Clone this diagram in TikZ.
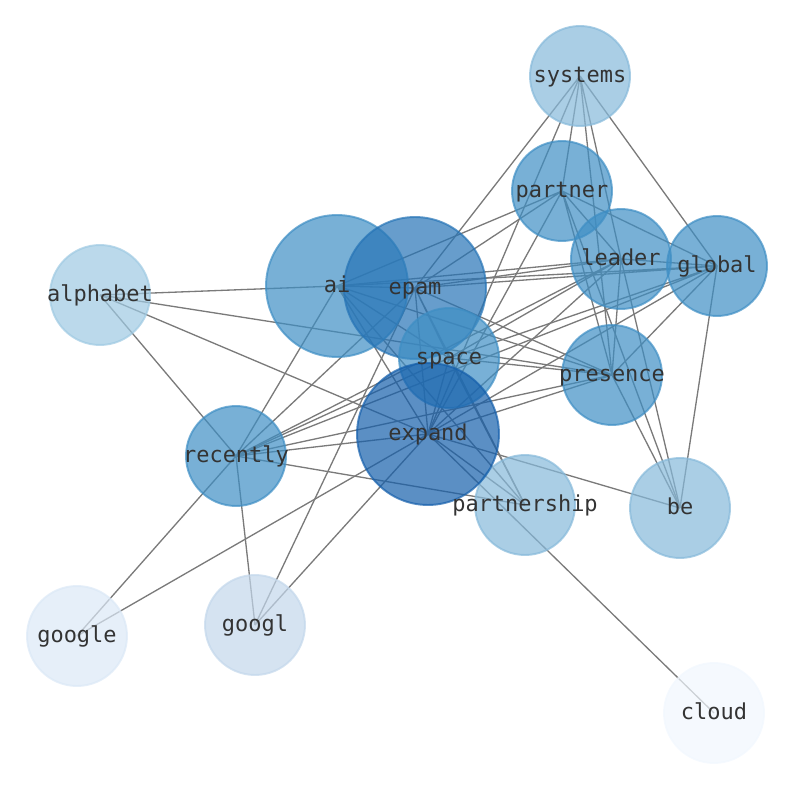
\documentclass[tikz,border=0pt]{standalone}
\usepackage{fontspec}
\usetikzlibrary{backgrounds}
\newfontfamily\labelfont{DejaVu Sans Mono}
\definecolor{tone1}{HTML}{F1F7FE}
\definecolor{tone2}{HTML}{DBE8F6}
\definecolor{tone3}{HTML}{C3D7EB}
\definecolor{tone4}{HTML}{9EC9E2}
\definecolor{tone5}{HTML}{86B9DA}
\definecolor{tone6}{HTML}{3E8EC4}
\definecolor{tone7}{HTML}{2674B6}
\definecolor{tone8}{HTML}{155FAB}
\begin{document}
\begin{tikzpicture}[x=0.02cm, y=-0.02cm,
	word/.style={circle, inner sep=0pt, minimum size=2.0cm, fill=#1, draw=#1,
		fill opacity=0.7, draw opacity=0.7, line width=1.1pt},
	big/.style={minimum size=2.84cm},
	tag/.style={inner sep=0pt, text height=0.93em, text depth=0.24em, text=black!80,
		font=\labelfont\fontsize{12.5}{14}\selectfont},
	link/.style={draw=black!52, line width=0.75pt}]
	\useasboundingbox (0,0) rectangle (794,790);
	% words
	\node (systems) [word=tone5] at (580,76) {};
	\node (partner) [word=tone6] at (562,191) {};
	\node (leader) [word=tone6] at (621,259) {};
	\node (global) [word=tone6] at (717,266) {};
	\node (alphabet) [word=tone4] at (100,295) {};
	\node (presence) [word=tone6] at (612,375) {};
	\node (recently) [word=tone6] at (236,456) {};
	\node (partnership) [word=tone5] at (525,505) {};
	\node (be) [word=tone5] at (680,508) {};
	\node (google) [word=tone2] at (77,636) {};
	\node (googl) [word=tone3] at (255,625) {};
	\node (cloud) [word=tone1] at (714,713) {};
	\node (ai) [word=tone6, big] at (337,286) {};
	\node (epam) [word=tone7, big] at (415,288) {};
	\node (space) [word=tone6] at (449,358) {};
	\node (expand) [word=tone8, big] at (428,434) {};
	% links
	\begin{scope}[on background layer]
	\draw[link] (systems.center) -- (epam.center) (systems.center) -- (expand.center)
		(systems.center) -- (partner.center) (systems.center) -- (leader.center)
		(systems.center) -- (presence.center) (systems.center) -- (global.center);
	\draw[link] (partner.center) -- (ai.center) (partner.center) -- (epam.center)
		(partner.center) -- (expand.center) (partner.center) -- (leader.center)
		(partner.center) -- (global.center) (partner.center) -- (presence.center)
		(partner.center) -- (be.center);
	\draw[link] (leader.center) -- (ai.center) (leader.center) -- (epam.center)
		(leader.center) -- (global.center) (leader.center) -- (space.center)
		(leader.center) -- (expand.center) (leader.center) -- (presence.center)
		(leader.center) -- (be.center) (leader.center) -- (recently.center);
	\draw[link] (global.center) -- (ai.center) (global.center) -- (epam.center)
		(global.center) -- (presence.center) (global.center) -- (be.center)
		(global.center) -- (space.center) (global.center) -- (expand.center)
		(global.center) -- (recently.center);
	\draw[link] (ai.center) -- (alphabet.center) (ai.center) -- (presence.center)
		(ai.center) -- (space.center) (ai.center) -- (expand.center)
		(ai.center) -- (partnership.center) (ai.center) -- (recently.center)
		(ai.center) -- (epam.center);
	\draw[link] (epam.center) -- (presence.center) (epam.center) -- (space.center)
		(epam.center) -- (expand.center) (epam.center) -- (partnership.center)
		(epam.center) -- (recently.center) (epam.center) -- (googl.center);
	\draw[link] (alphabet.center) -- (presence.center) (alphabet.center) -- (expand.center)
		(alphabet.center) -- (recently.center);
	\draw[link] (space.center) -- (presence.center) (space.center) -- (expand.center)
		(space.center) -- (recently.center) (space.center) -- (partnership.center);
	\draw[link] (expand.center) -- (presence.center) (expand.center) -- (recently.center)
		(expand.center) -- (partnership.center) (expand.center) -- (be.center)
		(expand.center) -- (google.center) (expand.center) -- (googl.center)
		(expand.center) -- (cloud.center);
	\draw[link] (recently.center) -- (presence.center) (recently.center) -- (partnership.center)
		(recently.center) -- (google.center) (recently.center) -- (googl.center)
		(presence.center) -- (be.center);
	\end{scope}
	% labels
	\node[tag] (systems-t) at (systems) {systems};
	\node[tag] (partner-t) at (partner) {partner};
	\node[tag] (leader-t) at (leader) {leader};
	\node[tag] (global-t) at (global) {global};
	\node[tag] (alphabet-t) at (alphabet) {alphabet};
	\node[tag] (presence-t) at (presence) {presence};
	\node[tag] (recently-t) at (recently) {recently};
	\node[tag] (partnership-t) at (partnership) {partnership};
	\node[tag] (be-t) at (be) {be};
	\node[tag] (google-t) at (google) {google};
	\node[tag] (googl-t) at (googl) {googl};
	\node[tag] (cloud-t) at (cloud) {cloud};
	\node[tag] (ai-t) at (ai) {ai};
	\node[tag] (epam-t) at (epam) {epam};
	\node[tag] (space-t) at (space) {space};
	\node[tag] (expand-t) at (expand) {expand};
\end{tikzpicture}
\end{document}
